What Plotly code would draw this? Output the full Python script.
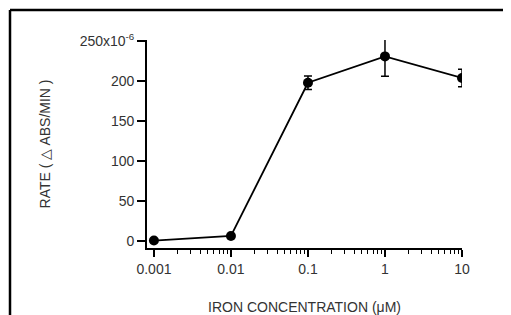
import plotly.graph_objects as go
import math

iron_conc = [0.001, 0.01, 0.1, 1, 10]
rate = [0.5, 6.3, 198, 231, 204]
rate_err = [0, 0, 8.5, 25, 11]
x_tickvals = [0.001, 0.01, 0.1, 1, 10]
x_ticktext = ["0.001", "0.01", "0.1", "1", "10"]
y_tickvals = [0, 50, 100, 150, 200, 250]
y_ticktext = ["0", "50", "100", "150", "200", "250x10<sup>-6</sup>"]

minor_vals = [m * d for d in [0.001, 0.01, 0.1, 1] for m in range(2, 10)]

OFF = 8  # page body margin offset
W, H = 511 - OFF, 315 - OFF
ml, mr, mt, mb = 147 - OFF, 49, 40 - OFF, 67
pw, ph = W - ml - mr, H - mt - mb

fig = go.Figure()
fig.add_trace(go.Scatter(
    x=iron_conc, y=rate, mode="lines+markers",
    line=dict(color="black", width=1.8),
    marker=dict(color="black", size=10),
    error_y=dict(type="data", array=rate_err, visible=True, color="black", thickness=1.5, width=4),
    showlegend=False,
))

fnt = dict(family="Liberation Sans, Arial, sans-serif", size=14, color="#333")

fig.update_layout(
    width=W, height=H,
    margin=dict(l=ml, r=mr, t=mt, b=mb, autoexpand=False),
    paper_bgcolor="white", plot_bgcolor="white",
    font=fnt,
    xaxis=dict(
        type="log", range=[math.log10(0.001) - 0.09, 1.0],
        tickvals=x_tickvals, ticktext=x_ticktext,
        showline=True, linecolor="black", linewidth=1.8,
        ticks="outside", ticklen=7, tickcolor="black", tickwidth=1.5,
        minor=dict(tickvals=minor_vals, ticks="outside", ticklen=4, tickcolor="black", tickwidth=1.2, showgrid=False),
        showgrid=False, zeroline=False,
        title=dict(text="IRON CONCENTRATION (μM)", font=fnt, standoff=27),
    ),
    yaxis=dict(
        range=[-8.8, 251.5],
        tickvals=y_tickvals, ticktext=y_ticktext,
        showline=True, linecolor="black", linewidth=1.8,
        ticks="outside", ticklen=8, tickcolor="black", tickwidth=1.5,
        showgrid=False, zeroline=False,
        title=dict(text="RATE ( △ ABS/MIN )", font=fnt, standoff=26),
    ),
)

# outer black frame (only top and left edges visible)
x_left = (10 - OFF - ml) / pw
y_top = (H - mb - (10 - OFF)) / ph
fig.add_shape(type="line", xref="paper", yref="paper",
              x0=x_left, x1=(W - ml) / pw, y0=y_top, y1=y_top,
              line=dict(color="black", width=2.5), layer="below")
fig.add_shape(type="line", xref="paper", yref="paper",
              x0=x_left, x1=x_left, y0=y_top, y1=-(mb) / ph,
              line=dict(color="black", width=2.5), layer="below")

fig.write_html("out.html",
               post_script="document.documentElement.style.overflow='hidden';document.body.style.overflow='hidden';")
